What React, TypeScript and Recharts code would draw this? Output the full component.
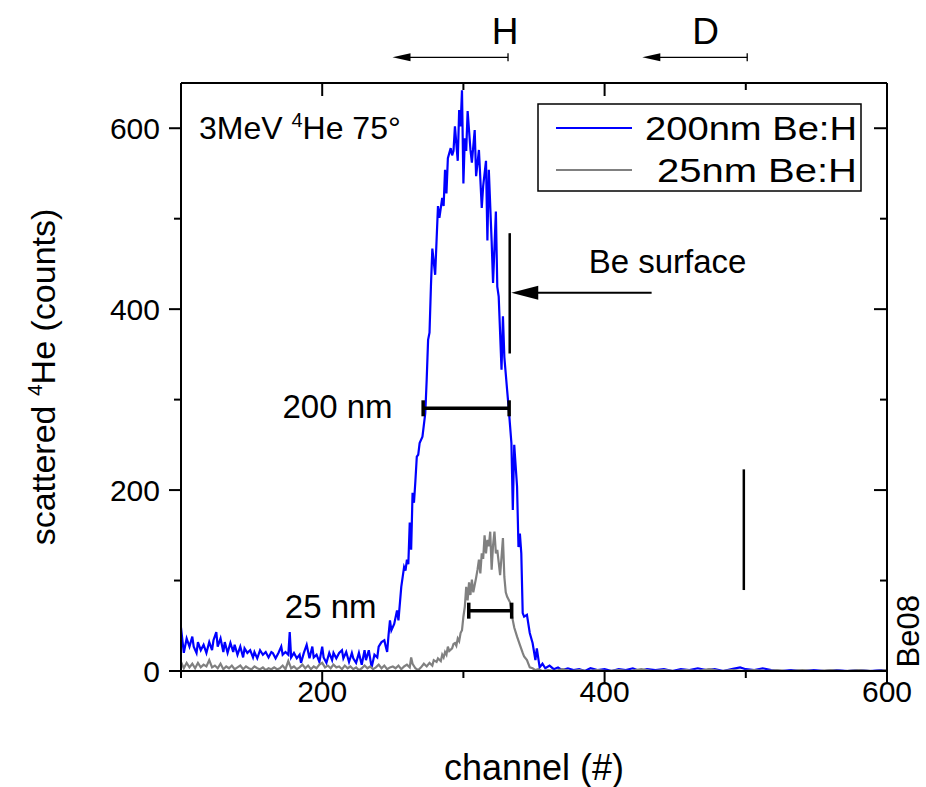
import React from "react";
import {
  LineChart, Line, XAxis, YAxis, ReferenceLine, ReferenceDot, Legend,
} from "recharts";

const FONT = "'Liberation Sans', Arial, Helvetica, sans-serif";

// 200 nm Be:H spectrum
const thickCh = [
  100, 102, 104, 106, 108, 109, 111, 112, 114, 116, 118, 120, 122, 123, 125, 126, 128, 130, 131, 133,
  135, 137, 138, 140, 142, 144, 145, 147, 149, 151, 152, 154, 156, 158, 160, 162, 164, 165, 167, 169,
  171, 172, 174, 176, 177, 178, 180, 182, 184, 185, 187, 189, 191, 193, 194, 196, 198, 200, 201, 203,
  205, 207, 208, 210, 212, 214, 215, 217, 219, 221, 222, 224, 226, 228, 230, 231, 233, 235, 237, 239,
  240, 242, 244, 245, 246, 247, 248, 249, 251, 253, 254, 256, 257, 258, 259, 260, 261, 262, 263, 264,
  265, 266, 267, 268, 269, 271, 273, 274, 275, 276, 277, 278, 280, 282, 283, 285, 286, 287, 288, 289,
  291, 292, 293, 294, 296, 297, 298, 299, 300, 301, 302, 303, 305, 306, 308, 309, 311, 313, 314, 316,
  317, 318, 320, 321, 323, 324, 325, 327, 328, 329, 331, 332, 334, 335, 336, 338, 339, 340, 341, 342,
  343, 345, 347, 349, 351, 352, 354, 356, 358, 361, 364, 367, 370, 374, 378, 382, 386, 390, 395, 400,
  405, 410, 415, 420, 425, 430, 436, 442, 448, 454, 460, 466, 472, 478, 484, 490, 496, 500, 506, 512,
  518, 525, 532, 540, 548, 556, 564, 572, 580, 588, 596, 600,
];
const thickCounts = [
  48, 20, 36, 27, 38, 27, 20, 32, 23, 29, 20, 32, 23, 34, 43, 27, 36, 21, 32, 20,
  31, 21, 29, 18, 27, 15, 25, 20, 23, 15, 21, 14, 23, 18, 21, 15, 21, 20, 14, 20,
  27, 18, 21, 18, 43, 15, 20, 14, 18, 9, 20, 29, 14, 27, 15, 18, 10, 27, 15, 9,
  20, 12, 20, 14, 20, 23, 14, 21, 10, 20, 14, 9, 20, 7, 23, 12, 23, 4, 18, 15,
  27, 32, 34, 27, 21, 40, 56, 45, 52, 67, 56, 93, 104, 115, 111, 123, 118, 164, 134, 197,
  186, 210, 237, 239, 252, 259, 285, 322, 366, 374, 425, 467, 438, 514, 501, 523, 514, 554, 528, 567,
  578, 570, 575, 602, 564, 620, 602, 642, 539, 589, 575, 619, 576, 562, 598, 547, 576, 512, 536, 564,
  476, 554, 475, 429, 508, 425, 414, 333, 392, 347, 310, 292, 252, 178, 250, 204, 137, 152, 130, 64,
  60, 62, 42, 31, 12, 25, 4, 8, 3, 6, 2, 4, 1, 3, 1, 2, 0, 3, 1, 2,
  0, 2, 1, 3, 0, 2, 1, 2, 0, 2, 1, 3, 1, 2, 0, 2, 4, 2, 1, 3,
  1, 0, 1, 0, 1, 0, 1, 0, 1, 0, 1, 0,
];

// 25 nm Be:H spectrum
const thinCh = [
  100, 102, 104, 106, 108, 110, 112, 114, 116, 118, 120, 122, 124, 126, 128, 130, 132, 134, 136, 138,
  140, 142, 144, 146, 148, 150, 152, 154, 156, 158, 160, 162, 164, 166, 168, 170, 172, 174, 176, 178,
  180, 182, 184, 186, 188, 190, 192, 194, 196, 198, 200, 202, 204, 206, 208, 210, 212, 214, 216, 218,
  220, 222, 224, 226, 228, 230, 232, 234, 236, 238, 240, 242, 244, 246, 248, 250, 252, 254, 256, 258,
  260, 262, 263, 264, 266, 268, 270, 272, 274, 276, 278, 279, 281, 282, 284, 285, 286, 287, 288, 289,
  290, 292, 293, 294, 295, 296, 297, 298, 299, 300, 301, 302, 303, 304, 305, 306, 307, 308, 309, 310,
  311, 312, 313, 314, 315, 316, 317, 318, 319, 320, 321, 322, 323, 324, 325, 326, 327, 328, 329, 330,
  331, 333, 334, 335, 336, 338, 340, 342, 343, 345, 347, 349, 351, 353, 356, 360, 365, 370, 376, 382,
  388, 395, 402, 410, 418, 426, 434, 442, 450, 458, 466, 474, 482, 490, 498, 506, 514, 522, 530, 540,
  550, 560, 570, 580, 590, 600,
];
const thinCounts = [
  10, 3, 9, 4, 8, 3, 9, 4, 7, 5, 12, 4, 6, 3, 8, 2, 5, 3, 6, 2,
  4, 6, 2, 5, 3, 2, 5, 3, 2, 4, 1, 3, 2, 4, 2, 3, 6, 2, 11, 3,
  5, 2, 4, 7, 3, 6, 2, 5, 3, 7, 9, 4, 6, 3, 7, 4, 5, 2, 6, 3,
  5, 2, 4, 1, 3, 6, 3, 5, 2, 4, 7, 3, 6, 2, 4, 5, 3, 6, 2, 5,
  7, 4, 15, 8, 3, 1, 4, 8, 5, 9, 6, 12, 10, 14, 11, 18, 15, 21, 18, 27,
  22, 25, 30, 31, 28, 36, 33, 42, 45, 60, 71, 93, 78, 98, 84, 101, 87, 95, 103, 112,
  123, 108, 130, 124, 150, 130, 145, 138, 154, 112, 139, 154, 130, 134, 120, 106, 126, 147, 104, 87,
  82, 76, 64, 56, 48, 38, 29, 20, 16, 12, 4, 3, 1, 2, 0, 1, 0, 2, 0, 1,
  0, 1, 0, 1, 0, 2, 0, 1, 0, 1, 0, 2, 0, 1, 0, 1, 0, 1, 0, 1,
  0, 1, 0, 1, 0, 1,
];

const xTicks = [100, 200, 300, 400, 500, 600];
const xMajor = [200, 400, 600];
const yTicks = [0, 100, 200, 300, 400, 500, 600];
const yMajor = [0, 200, 400, 600];

const thickData = thickCh.map((c, i) => ({ ch: c, counts: thickCounts[i] }));
const thinData = thinCh.map((c, i) => ({ ch: c, counts: thinCounts[i] }));

const BottomTick = ({ x, y, payload }: any) => {
  const major = xMajor.includes(payload.value);
  return (
    <g>
      <line x1={x} x2={x} y1={y} y2={y + (major ? 13 : 7)} stroke="#000" strokeWidth={2} />
      {major && (
        <text x={x} y={y + 31} textAnchor="middle" fontSize={30} fontFamily={FONT} fill="#000">
          {payload.value}
        </text>
      )}
    </g>
  );
};

const LeftTick = ({ x, y, payload }: any) => {
  const major = yMajor.includes(payload.value);
  return (
    <g>
      <line x1={x - (major ? 12 : 7)} x2={x} y1={y} y2={y} stroke="#000" strokeWidth={2} />
      {major && (
        <text x={x - 21} y={y + 11} textAnchor="end" fontSize={30} fontFamily={FONT} fill="#000">
          {payload.value}
        </text>
      )}
    </g>
  );
};

const TopTick = ({ x, y, payload }: any) => {
  const major = xMajor.includes(payload.value);
  return <line x1={x} x2={x} y1={y} y2={y + (major ? 13 : 7)} stroke="#000" strokeWidth={2} />;
};

const RightTick = ({ x, y, payload }: any) => {
  const major = yMajor.includes(payload.value);
  return <line x1={x - (major ? 13 : 7)} x2={x} y1={y} y2={y} stroke="#000" strokeWidth={2} />;
};

// arrow pointing to the first point of the segment, with an optional stop bar at the other end
const arrow = (len: number, half: number, width: number, bar: boolean) => (p: any) => {
  const { x1, y1, x2, y2 } = p;
  return (
    <g>
      <line x1={x1 + len * 0.8} y1={y1} x2={x2} y2={y2} stroke="#000" strokeWidth={width} />
      <polygon points={`${x1},${y1} ${x1 + len},${y1 - half} ${x1 + len},${y1 + half}`} fill="#000" />
      {bar && <line x1={x2} x2={x2} y1={y2 - 4} y2={y2 + 4} stroke="#000" strokeWidth={1.3} />}
    </g>
  );
};

// thickness bar with end caps
const capBar = (p: any) => {
  const { x1, y1, x2, y2 } = p;
  return (
    <g>
      <line x1={x1} y1={y1} x2={x2} y2={y2} stroke="#000" strokeWidth={3.5} />
      <line x1={x1} x2={x1} y1={y1 - 8} y2={y1 + 8} stroke="#000" strokeWidth={3.5} />
      <line x1={x2} x2={x2} y1={y2 - 8} y2={y2 + 8} stroke="#000" strokeWidth={3.5} />
    </g>
  );
};

const textAt = (content: React.ReactNode, size: number, anchor = "start", rotate = false) => (p: any) => (
  <text
    x={p.cx}
    y={p.cy}
    fontSize={size}
    fontFamily={FONT}
    fill="#000"
    textAnchor={anchor}
    transform={rotate ? `rotate(-90 ${p.cx} ${p.cy})` : undefined}
  >
    {content}
  </text>
);

const legendText = [
  { x: 108, len: 212 },
  { x: 120, len: 200 },
];

const LegendBox = ({ payload }: any) => (
  <svg width={326} height={90} style={{ display: "block" }}>
    <rect x={1} y={1} width={323} height={87} fill="#fff" stroke="#000" strokeWidth={1.5} />
    {(payload || []).map((p: any, i: number) => (
      <g key={p.value}>
        <line x1={19} x2={95} y1={25 + i * 42} y2={25 + i * 42} stroke={p.color} strokeWidth={2} />
        <text x={legendText[i].x} y={37 + i * 42} textLength={legendText[i].len} lengthAdjust="spacingAndGlyphs"
          fontSize={34} fontFamily={FONT} fill="#000">
          {p.value}
        </text>
      </g>
    ))}
  </svg>
);

export default function App() {
  return (
    <div style={{ position: "absolute", left: 0, top: 0, width: 926, height: 787, background: "#fff" }}>
      <LineChart width={926} height={787} margin={{ top: 63, right: 19, bottom: 76, left: 121 }}>
        <XAxis
          type="number" dataKey="ch" domain={[100, 600]} ticks={xTicks} allowDataOverflow
          height={40} tickSize={0} tickMargin={0} tick={<BottomTick />} tickLine={false}
          axisLine={{ stroke: "#000", strokeWidth: 2 }}
          label={{
            content: (p: any) => (
              <text x={p.viewBox.x + p.viewBox.width / 2} y={p.viewBox.y + 109} textAnchor="middle"
                fontSize={36} fontFamily={FONT} fill="#000">channel (#)</text>
            ),
          }}
        />
        <XAxis
          xAxisId="top" orientation="top" type="number" dataKey="ch" domain={[100, 600]} ticks={xTicks}
          allowDataOverflow height={20} tickSize={0} tickMargin={0} tick={<TopTick />} tickLine={false}
          axisLine={{ stroke: "#000", strokeWidth: 2 }}
        />
        <YAxis
          type="number" domain={[0, 650]} ticks={yTicks} allowDataOverflow width={60}
          tickSize={0} tickMargin={0} tick={<LeftTick />} tickLine={false}
          axisLine={{ stroke: "#000", strokeWidth: 2 }}
          label={{
            content: (p: any) => {
              const cx = p.viewBox.x - 66;
              const cy = p.viewBox.y + p.viewBox.height / 2;
              return (
                <text x={cx} y={cy} transform={`rotate(-90 ${cx} ${cy})`} textAnchor="middle"
                  fontSize={34} fontFamily={FONT} fill="#000">
                  scattered <tspan dy={-13} fontSize={21}>4</tspan><tspan dy={13}>He (counts)</tspan>
                </text>
              );
            },
          }}
        />
        <YAxis
          yAxisId="right" orientation="right" type="number" domain={[0, 650]} ticks={yTicks}
          allowDataOverflow width={20} tickSize={0} tickMargin={0} tick={<RightTick />} tickLine={false}
          axisLine={{ stroke: "#000", strokeWidth: 2 }}
        />
        <Legend
          layout="vertical" align="center" verticalAlign="middle" content={<LegendBox />}
          wrapperStyle={{ left: 537, top: 103, width: 326, height: 90 }}
        />
        <Line data={thickData} dataKey="counts" name="200nm Be:H" type="linear" stroke="#0000ff"
          strokeWidth={2.2} dot={false} activeDot={false} isAnimationActive={false} />
        <Line data={thinData} dataKey="counts" name="25nm Be:H" type="linear" stroke="#808080"
          strokeWidth={2.2} dot={false} activeDot={false} isAnimationActive={false} />

        {/* H and D recoil ranges above the frame */}
        <ReferenceLine segment={[{ x: 249.8, y: 678.4 }, { x: 331.6, y: 678.4 }]} ifOverflow="visible"
          shape={arrow(18, 4, 1.3, true)} />
        <ReferenceLine segment={[{ x: 426.7, y: 678.4 }, { x: 501, y: 678.4 }]} ifOverflow="visible"
          shape={arrow(18, 4, 1.3, true)} />
        <ReferenceDot x={329.5} y={692.6} r={0} ifOverflow="visible" shape={textAt("H", 37, "middle")} />
        <ReferenceDot x={471.5} y={692.6} r={0} ifOverflow="visible" shape={textAt("D", 37, "middle")} />

        {/* Be surface marker */}
        <ReferenceLine segment={[{ x: 332.8, y: 351 }, { x: 332.8, y: 484 }]} ifOverflow="visible"
          stroke="#000" strokeWidth={2.5} />
        <ReferenceLine segment={[{ x: 333.9, y: 418.2 }, { x: 433.3, y: 418.2 }]} ifOverflow="visible"
          shape={arrow(27, 7, 2, false)} />
        <ReferenceDot x={444.6} y={440} r={0} ifOverflow="visible" shape={textAt("Be surface", 33, "middle")} />

        {/* layer thickness bars */}
        <ReferenceLine segment={[{ x: 271.5, y: 290.4 }, { x: 332.4, y: 290.4 }]} ifOverflow="visible" shape={capBar} />
        <ReferenceLine segment={[{ x: 303.8, y: 66.7 }, { x: 334.2, y: 66.7 }]} ifOverflow="visible" shape={capBar} />
        <ReferenceDot x={249.8} y={279.3} r={0} ifOverflow="visible" shape={textAt("200 nm", 33, "end")} />
        <ReferenceDot x={238.5} y={58.3} r={0} ifOverflow="visible" shape={textAt("25 nm", 33, "end")} />

        <ReferenceLine segment={[{ x: 498.6, y: 89.5 }, { x: 498.6, y: 222.9 }]} ifOverflow="visible"
          stroke="#000" strokeWidth={2.5} />

        <ReferenceDot x={112.7} y={587.8} r={0} ifOverflow="visible"
          shape={textAt(<>3MeV <tspan dy={-12} fontSize={20}>4</tspan><tspan dy={12}>He 75°</tspan></>, 32)} />
        <ReferenceDot x={623} y={44} r={0} ifOverflow="visible" shape={textAt("Be08", 31, "middle", true)} />
      </LineChart>
    </div>
  );
}
